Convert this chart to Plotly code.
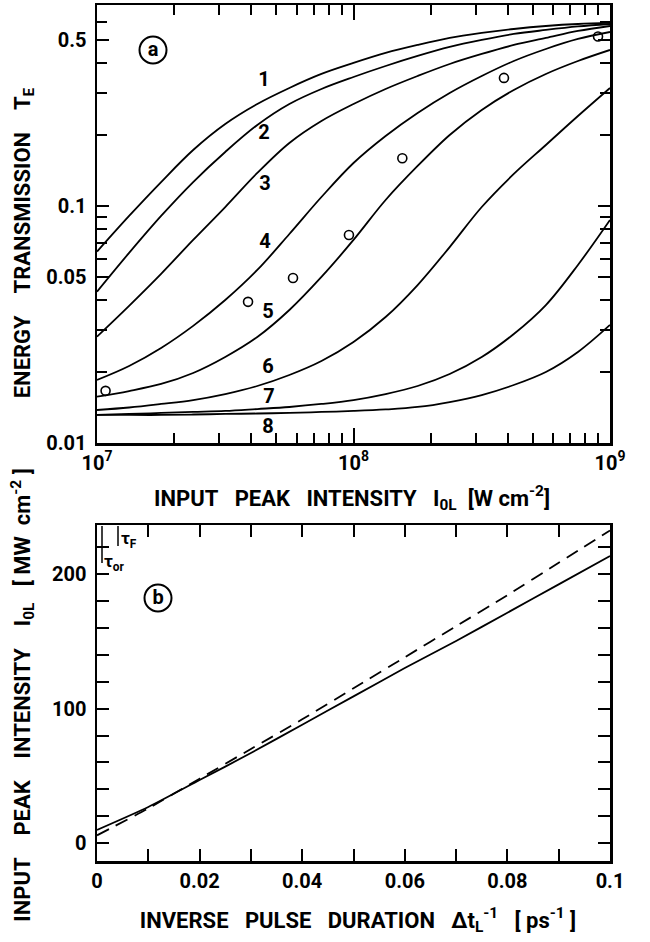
import plotly.graph_objects as go

# ---------------- data: panel (a) ----------------
intensity = [1.0e7, 1.334e7, 1.778e7, 2.371e7, 3.162e7, 4.217e7, 5.623e7, 7.499e7, 1.0e8,
             1.334e8, 1.778e8, 2.371e8, 3.162e8, 4.217e8, 5.623e8, 7.499e8, 1.0e9]
curve_1 = [0.0642, 0.0908, 0.1262, 0.1723, 0.2218, 0.2694, 0.3147, 0.3606, 0.4012,
           0.4421, 0.4779, 0.5117, 0.5370, 0.5582, 0.5747, 0.5860, 0.5918]
curve_2 = [0.0435, 0.0634, 0.0908, 0.1262, 0.1690, 0.2197, 0.2694, 0.3117, 0.3502,
           0.3896, 0.4295, 0.4687, 0.5018, 0.5318, 0.5529, 0.5720, 0.5860]
curve_3 = [0.0281, 0.0379, 0.0517, 0.0719, 0.0990, 0.1378, 0.1845, 0.2284, 0.2694,
           0.3117, 0.3536, 0.3973, 0.4379, 0.4779, 0.5117, 0.5476, 0.5747]
curve_4 = [0.01845, 0.02113, 0.02517, 0.0312, 0.0401, 0.0537, 0.0762, 0.1091, 0.1518,
           0.1974, 0.2469, 0.2998, 0.3536, 0.4091, 0.4596, 0.5066, 0.5423]
curve_5 = [0.01568, 0.01657, 0.01774, 0.01974, 0.02306, 0.0280, 0.0364, 0.0502, 0.0719,
           0.1060, 0.1475, 0.1993, 0.2542, 0.3087, 0.3606, 0.4091, 0.4553]
curve_6 = [0.01378, 0.01412, 0.01461, 0.01518, 0.01609, 0.01740, 0.01936, 0.02218, 0.02668,
           0.0340, 0.0464, 0.0671, 0.0990, 0.1365, 0.1809, 0.2397, 0.3147]
curve_7 = [0.01313, 0.01326, 0.01339, 0.01352, 0.01365, 0.01391, 0.01419, 0.01461, 0.01518,
           0.01609, 0.01740, 0.01955, 0.02306, 0.02884, 0.0382, 0.0564, 0.0873]
curve_8 = [0.01313, 0.01313, 0.01313, 0.01319, 0.01326, 0.01332, 0.01339, 0.01352, 0.01365,
           0.01385, 0.01419, 0.01489, 0.01594, 0.01757, 0.01993, 0.02421, 0.0315]
curves = [curve_1, curve_2, curve_3, curve_4, curve_5, curve_6, curve_7, curve_8]
curve_names = ["1", "2", "3", "4", "5", "6", "7", "8"]

meas_intensity = [1.08e7, 3.88e7, 5.81e7, 9.6e7, 1.55e8, 3.86e8, 8.98e8]
meas_transmission = [0.0166, 0.0394, 0.0497, 0.0754, 0.159, 0.347, 0.519]

x_ticks_a = [1e7, 1e8, 1e9]
x_ticktext_a = ["10<sup>7</sup>", "10<sup>8</sup>", "10<sup>9</sup>"]
y_ticks_a = [0.01, 0.05, 0.1, 0.5]
y_ticktext_a = ["0.01", "0.05", "0.1", "0.5"]

# ---------------- data: panel (b) ----------------
inv_duration = [0, 0.01, 0.02, 0.03, 0.04, 0.05, 0.06, 0.07, 0.08, 0.09, 0.1]
peak_solid = [10, 27, 47, 67, 88, 109, 130, 150, 171, 192, 213]
peak_dashed = [6, 26, 48, 70, 92, 115, 138, 161, 184, 208, 232]

x_ticks_b = [0, 0.02, 0.04, 0.06, 0.08, 0.1]
x_ticktext_b = ["0", "0.02", "0.04", "0.06", "0.08", "0.1"]
y_ticks_b = [0, 100, 200]

FONT = "Roboto, Liberation Sans, DejaVu Sans, sans-serif"
W, H = 650, 942
NB = "\u00a0"


def px(x):
    return x / W


def py(y):
    return 1 - y / H


fig = go.Figure()

for c in curves:
    fig.add_trace(go.Scatter(x=intensity, y=c, mode="lines",
                             line=dict(color="black", width=1.8, shape="spline", smoothing=1.0),
                             xaxis="x", yaxis="y", showlegend=False, hoverinfo="skip"))

fig.add_trace(go.Scatter(x=meas_intensity, y=meas_transmission, mode="markers",
                         marker=dict(symbol="circle-open", size=9, color="black", line=dict(width=1.6)),
                         xaxis="x", yaxis="y", showlegend=False))

fig.add_trace(go.Scatter(x=inv_duration, y=peak_solid, mode="lines",
                         line=dict(color="black", width=1.8, shape="spline", smoothing=0.6),
                         xaxis="x2", yaxis="y2", showlegend=False))
fig.add_trace(go.Scatter(x=inv_duration, y=peak_dashed, mode="lines",
                         line=dict(color="black", width=1.8, dash="13px,8px", shape="spline", smoothing=0.6),
                         xaxis="x2", yaxis="y2", showlegend=False))

# ---- text layer on a hidden full-page overlay (page-pixel coordinates) ----
tf = dict(family=FONT, size=22, color="black", weight="bold")
texts = [
    (352, 500, "INPUT" + NB * 3 + "PEAK" + NB * 3 + "INTENSITY" + NB * 3 + "I<sub>0L</sub>" + NB * 2 + "[W" + NB + "cm<sup>-2</sup>]", 22),
    (358, 922, "INVERSE" + NB * 3 + "PULSE" + NB * 3 + "DURATION" + NB * 3 + "\u0394t<sub>L</sub><sup>-1</sup>" + NB * 3 + "[" + NB + "ps<sup>-1</sup>" + NB + "]", 22),
    (264, 81, "1", 20), (264, 134, "2", 20),
    (265, 185, "3", 20), (265, 243, "4", 20),
    (268, 313, "5", 20), (268, 368, "6", 20),
    (269, 398, "7", 20), (268, 428, "8", 20),
    (153, 51, "a", 20), (158, 599, "b", 20),
]
for x, y, t, size in texts:
    fig.add_trace(go.Scatter(x=[x], y=[y], text=[t], mode="text", textposition="middle center",
                             textfont=dict(family=FONT, size=size, color="black", weight="bold"),
                             xaxis="x3", yaxis="y3", showlegend=False, hoverinfo="skip", cliponaxis=False))
for x, y, t in [(121, 540, "\u03c4<sub>F</sub>"), (104, 563, "\u03c4<sub>or</sub>")]:
    fig.add_trace(go.Scatter(x=[x], y=[y], text=[t], mode="text", textposition="middle right",
                             textfont=dict(family=FONT, size=17, color="black", weight="bold"),
                             xaxis="x3", yaxis="y3", showlegend=False, hoverinfo="skip", cliponaxis=False))

# circled panel letters
fig.add_trace(go.Scatter(x=[153, 158], y=[50, 598], mode="markers",
                         marker=dict(symbol="circle-open", size=27, color="black", line=dict(width=2)),
                         xaxis="x3", yaxis="y3", showlegend=False, hoverinfo="skip", cliponaxis=False))
# tau marker bars
fig.add_trace(go.Scatter(x=[102, 102, None, 118, 118], y=[526, 563, None, 526, 546], mode="lines",
                         line=dict(color="black", width=1.5),
                         xaxis="x3", yaxis="y3", showlegend=False, hoverinfo="skip", cliponaxis=False))

# dummy subplots that only carry the rotated y titles
for xa, ya in (("x4", "y4"), ("x5", "y5")):
    fig.add_trace(go.Scatter(x=[0], y=[0], mode="markers", marker=dict(opacity=0),
                             xaxis=xa, yaxis=ya, showlegend=False, hoverinfo="skip"))

common = dict(showline=True, linewidth=2.5, linecolor="black", mirror="ticks", automargin=False,
              ticks="inside", tickwidth=2, tickcolor="black", showgrid=False, zeroline=False,
              tickfont=dict(family=FONT, size=20, color="black", weight="bold"))
hidden = dict(visible=False, automargin=False, showgrid=False, zeroline=False, fixedrange=True)
title_axis = dict(automargin=False, showline=False, ticks="", showticklabels=False,
                  showgrid=False, zeroline=False, fixedrange=True)

minor_x_a = [m * 10 ** e for e in (7, 8) for m in range(2, 10)]
minor_y_a = [0.02, 0.03, 0.04, 0.06, 0.07, 0.08, 0.09, 0.2, 0.3, 0.4, 0.6]

fig.update_layout(
    width=W, height=H, margin=dict(l=0, r=0, t=0, b=0, autoexpand=False),
    paper_bgcolor="white", plot_bgcolor="rgba(0,0,0,0)", hovermode=False,
    xaxis=dict(common, type="log", range=[7, 9], domain=[px(97), px(610)], anchor="y",
               tickmode="array", tickvals=x_ticks_a, ticktext=x_ticktext_a, ticklen=15,
               minor=dict(tickvals=minor_x_a, ticks="inside", ticklen=10, tickwidth=2, tickcolor="black", showgrid=False)),
    yaxis=dict(common, type="log", range=[-2, -0.152], domain=[py(443), py(5)], anchor="x",
               tickmode="array", tickvals=y_ticks_a, ticktext=y_ticktext_a, ticklen=12,
               ticklabelstandoff=4,
               minor=dict(tickvals=minor_y_a, ticks="inside", ticklen=10, tickwidth=2, tickcolor="black", showgrid=False)),
    xaxis2=dict(common, range=[0, 0.1], domain=[px(97), px(610)], anchor="y2",
                tickmode="array", tickvals=x_ticks_b, ticktext=x_ticktext_b, ticklen=12,
                minor=dict(dtick=0.01, ticks="inside", ticklen=12, tickwidth=2, tickcolor="black", showgrid=False)),
    yaxis2=dict(common, range=[-13, 236], domain=[py(861), py(525)], anchor="x2",
                tickmode="array", tickvals=y_ticks_b, ticklen=12, ticklabelstandoff=4,
                minor=dict(dtick=20, tick0=0, ticks="inside", ticklen=12, tickwidth=2, tickcolor="black", showgrid=False)),
    xaxis3=dict(hidden, range=[0, W], domain=[0, 1], anchor="y3"),
    yaxis3=dict(hidden, range=[H, 0], domain=[0, 1], anchor="x3"),
    xaxis4=dict(hidden, range=[0, 1], domain=[px(60), px(61)], anchor="y4"),
    yaxis4=dict(title_axis, range=[0, 1], domain=[py(395), py(91)], anchor="x4",
                title=dict(text="ENERGY" + NB * 4 + "TRANSMISSION" + NB * 4 + "T<sub>E</sub>",
                           font=tf, standoff=22)),
    xaxis5=dict(hidden, range=[0, 1], domain=[px(60), px(61)], anchor="y5"),
    yaxis5=dict(title_axis, range=[0, 1], domain=[py(922), py(468)], anchor="x5",
                title=dict(text="INPUT" + NB * 4 + "PEAK" + NB * 4 + "INTENSITY" + NB * 4 + "I<sub>0L</sub>" + NB * 3 + "[" + NB + "MW" + NB * 2 + "cm<sup>-2</sup>" + NB + "]",
                           font=tf, standoff=22)),
)

fig.write_html("out.html", config={"displayModeBar": False, "staticPlot": True},
               post_script="document.body.style.margin='0px';")
